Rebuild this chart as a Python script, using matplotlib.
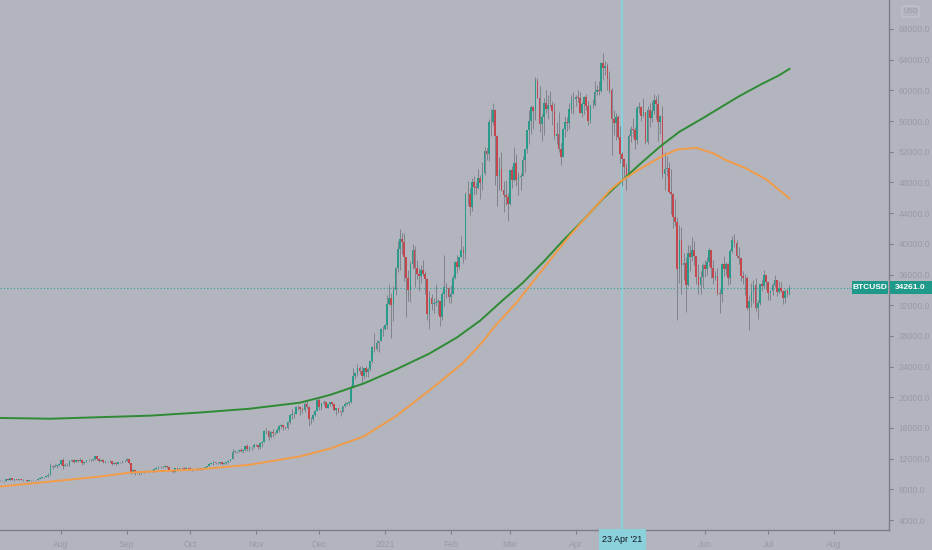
import numpy as np
import pandas as pd
import matplotlib
matplotlib.use("Agg")
import matplotlib.pyplot as plt
import matplotlib.dates as mdates
from matplotlib.patches import Rectangle, FancyBboxPatch

plt.rcParams["font.family"] = ["Liberation Sans", "DejaVu Sans"]

# BTCUSD daily candles, 3 Jul 2020 .. 11 Jul 2021, in thousand USD
start_day = "2020-07-03"
first_open = 9.23

close = [
    # Jul 2020 (from the 3rd)
    9.09, 9.13, 9.09, 9.35, 9.25, 9.43, 9.24, 9.29, 9.24, 9.30, 9.24, 9.25, 9.20, 9.13, 9.16,
    9.18, 9.21, 9.16, 9.39, 9.54, 9.61, 9.55, 9.71, 9.93, 11.03, 10.91, 11.10, 11.11, 11.34,
    # Aug
    11.80, 11.07, 11.22, 11.19, 11.74, 11.77, 11.60, 11.76, 11.68, 11.88, 11.41, 11.58, 11.78, 11.77, 11.87, 11.91,
    12.30, 11.96, 11.75, 11.87, 11.52, 11.68, 11.65, 11.75, 11.33, 11.47, 11.33, 11.54, 11.50, 11.71, 11.65,
    # Sep
    11.92, 11.39, 10.17, 10.47, 10.16, 10.26, 10.37, 10.13, 10.24, 10.36, 10.40, 10.44, 10.33, 10.68, 10.79,
    10.96, 10.95, 10.93, 11.08, 10.92, 10.42, 10.53, 10.24, 10.74, 10.69, 10.73, 10.78, 10.70, 10.84, 10.78,
    # Oct
    10.62, 10.57, 10.55, 10.67, 10.79, 10.60, 10.67, 10.92, 11.06, 11.30, 11.38, 11.54, 11.43, 11.43, 11.50, 11.32,
    11.37, 11.51, 11.75, 11.92, 12.82, 12.98, 12.93, 13.12, 13.03, 13.07, 13.65, 13.27, 13.46, 13.56, 13.80,
    # Nov
    13.76, 13.55, 14.03, 14.15, 15.59, 15.58, 14.84, 15.48, 15.33, 15.30, 15.70, 16.28, 16.32, 16.07, 15.96,
    16.72, 17.65, 17.80, 17.82, 18.68, 18.70, 18.42, 18.37, 19.16, 18.72, 17.15, 17.14, 17.72, 18.18, 19.70,
    # Dec
    18.78, 19.21, 19.42, 18.65, 19.15, 19.36, 19.17, 18.32, 18.55, 18.25, 18.03, 18.80, 19.17, 19.27, 19.44, 21.35,
    22.81, 23.14, 23.87, 23.48, 22.73, 23.82, 23.24, 23.73, 24.71, 26.49, 26.28, 27.08, 27.37, 28.88, 28.95,
    # Jan 2021
    29.37, 32.13, 33.00, 31.97, 33.99, 36.82, 39.37, 40.67, 40.24, 38.24, 35.54, 34.01, 37.39, 39.19, 36.83, 36.06,
    35.82, 36.63, 36.03, 35.47, 30.83, 33.00, 32.10, 32.28, 32.37, 32.57, 30.43, 33.47, 34.32, 34.29, 33.11,
    # Feb
    33.52, 35.51, 37.67, 36.93, 38.29, 39.24, 38.83, 46.46, 46.48, 44.85, 48.01, 47.41, 47.23, 48.63,
    47.95, 49.20, 52.15, 51.68, 55.89, 55.92, 57.49, 54.09, 48.90, 49.70, 47.06, 46.30, 46.16, 45.14,
    # Mar
    49.62, 48.38, 50.54, 48.37, 48.76, 48.88, 50.97, 52.38, 54.88, 55.96, 57.77, 57.25, 61.19, 59.00, 55.64, 56.47,
    58.33, 57.57, 58.09, 58.09, 57.35, 54.11, 54.34, 52.30, 51.32, 55.03, 55.83, 55.79, 57.63, 58.73, 58.92,
    # Apr
    59.10, 59.05, 57.08, 58.20, 59.13, 57.99, 56.00, 58.09, 58.09, 59.77, 60.00, 59.86, 63.56, 62.96, 63.23,
    61.45, 60.06, 56.22, 55.72, 56.47, 53.91, 51.76, 51.09, 50.05, 49.00, 54.02, 55.03, 54.82, 53.56, 57.75,
    # May
    57.83, 56.63, 57.20, 53.33, 57.42, 56.40, 57.36, 58.80, 58.23, 55.86, 56.65, 49.15, 49.72, 49.88, 46.76, 46.45,
    43.54, 42.85, 36.69, 40.53, 37.28, 37.52, 34.66, 38.80, 38.32, 39.24, 38.44, 35.66, 34.60, 35.66, 37.29,
    # Jun
    36.69, 37.57, 39.19, 36.85, 35.52, 35.80, 33.59, 33.40, 37.39, 36.69, 37.34, 35.55, 39.02, 40.52, 40.14,
    38.35, 38.09, 35.82, 35.48, 35.60, 31.68, 32.51, 33.68, 34.66, 31.59, 32.28, 34.70, 34.50, 35.90, 35.04,
    # Jul
    33.57, 33.90, 34.69, 35.29, 33.69, 34.22, 33.86, 32.88, 33.81, 33.51, 34.26,
]

high = [
    9.20, 9.19, 9.14, 9.36, 9.36, 9.45, 9.44, 9.31, 9.30, 9.34, 9.34, 9.28, 9.27, 9.21, 9.19,
    9.21, 9.24, 9.22, 9.43, 9.56, 9.66, 9.63, 9.74, 10.12, 11.38, 11.20, 11.33, 11.17, 11.43,
    11.85, 12.03, 11.46, 11.39, 11.77, 11.90, 11.91, 11.80, 11.80, 12.06, 11.93, 11.67, 11.80, 11.99, 11.96, 11.94,
    12.36, 12.40, 12.02, 11.89, 11.89, 11.69, 11.72, 11.81, 11.75, 11.53, 11.57, 11.56, 11.57, 11.71, 11.77,
    12.07, 11.95, 11.47, 10.64, 10.57, 10.35, 10.39, 10.44, 10.35, 10.50, 10.42, 10.48, 10.58, 10.76, 10.94,
    11.10, 11.04, 11.03, 11.18, 11.06, 10.95, 10.57, 10.54, 10.79, 10.76, 10.78, 10.80, 10.96, 10.86, 10.85,
    10.92, 10.62, 10.60, 10.68, 10.80, 10.80, 10.68, 10.96, 11.10, 11.49, 11.43, 11.72, 11.56, 11.55, 11.54, 11.54,
    11.40, 11.52, 11.82, 11.99, 13.22, 13.16, 13.03, 13.16, 13.34, 13.24, 13.79, 13.86, 13.63, 13.67, 14.09,
    13.90, 13.82, 14.07, 14.24, 15.75, 15.97, 15.74, 15.65, 15.84, 15.46, 15.97, 16.32, 16.49, 16.33, 16.14,
    16.89, 17.86, 18.47, 18.10, 18.80, 18.97, 18.70, 18.77, 19.42, 19.47, 18.92, 17.44, 17.86, 18.34, 19.86,
    19.92, 19.30, 19.58, 19.51, 19.17, 19.40, 19.39, 19.29, 18.63, 18.55, 18.27, 18.91, 19.40, 19.34, 19.53, 21.55,
    23.80, 23.25, 24.29, 24.10, 24.10, 23.84, 24.12, 23.80, 24.78, 26.72, 28.42, 27.41, 27.39, 28.99, 29.30,
    29.60, 33.30, 34.78, 33.60, 34.50, 36.94, 40.37, 41.95, 41.36, 41.35, 38.34, 36.60, 37.82, 40.00, 39.73, 37.93,
    36.85, 37.30, 37.85, 36.40, 35.57, 33.81, 33.46, 32.94, 34.82, 32.83, 32.56, 33.78, 38.53, 34.85, 34.33,
    34.66, 35.95, 37.70, 38.59, 38.29, 40.96, 39.70, 46.78, 48.14, 47.31, 48.63, 48.78, 48.05, 49.70,
    49.00, 50.62, 52.58, 52.50, 56.31, 57.54, 58.35, 57.55, 54.19, 51.34, 52.02, 48.16, 48.37, 46.62,
    49.79, 50.13, 52.64, 51.76, 49.41, 49.20, 51.42, 52.38, 54.90, 57.40, 58.08, 58.00, 61.78, 61.60, 60.60, 56.92,
    58.97, 60.10, 59.45, 59.88, 58.60, 58.40, 55.83, 57.20, 53.20, 55.09, 56.61, 56.56, 58.37, 59.34, 59.80,
    59.46, 60.04, 59.74, 58.49, 59.26, 59.47, 58.64, 58.15, 58.82, 61.25, 60.66, 61.18, 63.74, 64.86, 63.80,
    63.52, 62.57, 60.36, 57.48, 57.10, 56.75, 55.41, 52.00, 51.16, 50.54, 54.30, 55.40, 56.40, 55.20, 57.90,
    58.45, 57.94, 58.96, 57.02, 57.90, 58.36, 58.65, 59.50, 59.21, 59.55, 56.80, 57.95, 52.00, 51.51, 50.69, 49.80,
    46.60, 45.80, 43.55, 42.46, 42.20, 38.85, 38.25, 39.85, 39.80, 40.90, 40.40, 38.20, 37.34, 36.40, 37.48,
    37.90, 38.22, 39.44, 39.25, 37.90, 36.47, 36.79, 34.07, 37.53, 38.40, 37.68, 37.44, 39.35, 41.00, 41.30,
    40.50, 39.55, 38.20, 36.45, 36.10, 35.74, 33.30, 34.88, 35.27, 35.50, 32.70, 34.70, 35.30, 36.60, 36.00,
    35.04, 33.94, 34.95, 35.93, 35.29, 35.10, 35.06, 33.94, 34.08, 34.25, 34.59,
]

low = [
    9.05, 9.07, 8.90, 9.06, 9.20, 9.24, 9.16, 9.11, 9.18, 9.16, 9.20, 9.13, 9.17, 9.01, 9.09,
    9.13, 9.12, 9.13, 9.16, 9.29, 9.48, 9.47, 9.55, 9.65, 9.91, 10.59, 10.88, 10.84, 10.98,
    11.22, 10.65, 11.01, 11.02, 11.09, 11.59, 11.37, 11.55, 11.53, 11.67, 11.15, 11.27, 11.51, 11.64, 11.73, 11.69,
    11.84, 11.85, 11.58, 11.66, 11.48, 11.43, 11.53, 11.60, 11.17, 11.28, 11.16, 11.30, 11.47, 11.49, 11.57,
    11.65, 11.24, 10.02, 10.08, 9.88, 10.07, 9.93, 9.98, 10.11, 10.21, 10.20, 10.34, 10.22, 10.28, 10.64,
    10.67, 10.80, 10.83, 10.90, 10.83, 10.37, 10.37, 10.14, 10.20, 10.56, 10.65, 10.63, 10.66, 10.67, 10.71,
    10.54, 10.40, 10.52, 10.53, 10.64, 10.53, 10.59, 10.64, 10.83, 11.06, 11.28, 11.23, 11.35, 11.31, 11.30, 11.22,
    11.30, 11.36, 11.41, 11.69, 11.90, 12.71, 12.73, 12.90, 12.91, 12.78, 13.05, 12.94, 12.99, 13.13, 13.43,
    13.63, 13.21, 13.29, 13.52, 14.11, 15.19, 14.42, 14.71, 14.82, 15.07, 15.28, 15.44, 15.97, 15.71, 15.87,
    15.89, 16.57, 17.23, 17.36, 17.76, 18.35, 17.66, 18.00, 18.05, 18.57, 16.20, 16.54, 16.88, 17.53, 18.17,
    18.33, 18.34, 18.93, 18.60, 18.60, 18.92, 18.90, 18.24, 17.65, 17.91, 17.57, 18.02, 18.73, 19.00, 19.05, 19.28,
    21.23, 22.38, 22.81, 23.08, 21.82, 22.35, 22.70, 22.70, 23.44, 24.50, 25.86, 26.09, 25.88, 27.35, 27.98,
    28.80, 28.95, 32.00, 27.73, 29.90, 33.37, 36.34, 36.57, 38.72, 35.11, 30.42, 32.53, 32.38, 36.70, 34.41, 35.40,
    33.85, 34.86, 35.75, 33.40, 30.07, 28.85, 31.40, 30.95, 31.95, 30.84, 29.24, 30.01, 31.92, 32.96, 32.30,
    32.35, 33.43, 35.37, 36.17, 36.70, 38.28, 37.45, 38.01, 45.12, 43.79, 44.24, 46.33, 46.43, 47.09,
    45.80, 47.04, 48.95, 50.91, 50.75, 54.00, 55.48, 47.62, 44.89, 47.00, 46.86, 44.10, 45.05, 43.00,
    45.03, 47.23, 48.16, 47.50, 46.30, 47.07, 48.80, 49.35, 51.87, 53.07, 54.27, 55.00, 56.11, 59.00, 54.60, 53.34,
    54.20, 57.00, 56.32, 57.86, 55.50, 53.70, 53.00, 52.00, 50.32, 51.35, 53.95, 54.69, 54.93, 57.06, 56.87,
    57.95, 58.51, 57.00, 56.50, 56.87, 57.40, 55.47, 55.70, 57.64, 57.93, 59.41, 59.34, 59.80, 61.30, 62.02,
    60.00, 59.60, 51.54, 54.23, 53.48, 53.66, 50.57, 47.56, 48.79, 47.04, 48.86, 53.33, 53.88, 52.37, 53.07,
    57.05, 56.04, 56.48, 53.05, 52.97, 55.20, 55.88, 56.94, 56.24, 53.40, 54.37, 48.60, 46.98, 48.80, 46.57, 43.83,
    42.10, 42.30, 30.07, 34.95, 33.49, 35.26, 31.11, 34.50, 36.45, 37.80, 37.19, 34.70, 33.40, 33.40, 34.20,
    35.67, 35.97, 37.17, 35.59, 34.80, 35.26, 33.33, 31.00, 32.40, 35.78, 35.94, 34.63, 34.76, 38.77, 39.53,
    38.12, 37.38, 35.13, 34.82, 33.36, 31.33, 28.80, 31.70, 32.30, 31.30, 30.18, 32.00, 33.86, 34.23, 34.00,
    32.71, 32.70, 33.34, 34.33, 33.15, 33.53, 33.76, 32.11, 32.26, 33.02, 33.30,
]

# moving averages (thousand USD)
green_dates = ["2020-07-03", "2020-07-27", "2020-08-19", "2020-09-12", "2020-10-05", "2020-10-29",
               "2020-11-22", "2020-12-06", "2020-12-22", "2021-01-06", "2021-01-22", "2021-02-04",
               "2021-02-15", "2021-02-25", "2021-03-07", "2021-03-17", "2021-03-26", "2021-04-05",
               "2021-04-14", "2021-04-22", "2021-05-01", "2021-05-11", "2021-05-20", "2021-05-30",
               "2021-06-08", "2021-06-17", "2021-06-27", "2021-07-06", "2021-07-11"]
green_ma = [17.3, 17.2, 17.4, 17.6, 18.0, 18.5, 19.3, 20.3, 21.8, 23.6, 25.7, 27.8,
            30.0, 32.5, 34.9, 37.7, 40.4, 43.2, 45.9, 48.0, 50.3, 52.7, 54.6, 56.2,
            57.7, 59.2, 60.7, 61.95, 62.8]

orange_dates = ["2020-07-03", "2020-08-19", "2020-09-03", "2020-10-05", "2020-10-29", "2020-11-22",
                "2020-12-06", "2020-12-22", "2021-01-06", "2021-01-22", "2021-02-07", "2021-02-16",
                "2021-02-22", "2021-03-04", "2021-03-10", "2021-03-20", "2021-03-29", "2021-04-08",
                "2021-04-17", "2021-04-22", "2021-05-01", "2021-05-11", "2021-05-19", "2021-05-28",
                "2021-06-05", "2021-06-11", "2021-06-20", "2021-06-30", "2021-07-06", "2021-07-11"]
orange_ma = [8.35, 9.65, 10.2, 10.6, 11.2, 12.3, 13.3, 14.9, 17.5, 20.9, 24.5, 27.2,
             29.3, 32.3, 34.4, 37.9, 41.0, 44.1, 46.9, 48.1, 49.7, 51.3, 52.3, 52.5,
             51.8, 50.9, 49.9, 48.4, 47.05, 45.9]

price_ticks = [4000, 8000, 12000, 16000, 20000, 24000, 28000, 32000, 36000,
               40000, 44000, 48000, 52000, 56000, 60000, 64000, 68000]
month_ticks = ["2020-08-01", "2020-09-01", "2020-10-01", "2020-11-01", "2020-12-01", "2021-01-01",
               "2021-02-01", "2021-03-01", "2021-04-01", "2021-06-01", "2021-07-01", "2021-08-01"]
month_labels = ["Aug", "Sep", "Oct", "Nov", "Dec", "2021", "Feb", "Mar", "Apr", "Jun", "Jul", "Aug"]
symbol = "BTCUSD"
last_price = 34261.0
cursor_day = "2021-04-23"
cursor_label = "23 Apr '21"

BG = "#b2b5be"
UP = "#2a9a8b"
DOWN = "#c4474d"
WICK = "#80838c"
AXIS = "#7c7f88"
LABEL = "#989ba3"
TAG = "#1f9a8a"
CURSOR = "#8ad1dc"

W, H = 932, 550


def fx(px):
    return px / W


def fy(py):
    return 1 - py / H


days = pd.date_range(start_day, periods=len(close), freq="D")
x = mdates.date2num(days)
c = np.array(close) * 1000
o = np.r_[first_open * 1000, c[:-1]]
h = np.maximum(np.array(high) * 1000, np.maximum(o, c))
l = np.minimum(np.array(low) * 1000, np.minimum(o, c))
up = c >= o

fig = plt.figure(figsize=(W / 100, H / 100), dpi=100, facecolor=BG)
ax = fig.add_axes([0, 20 / H, 889 / W, 530 / H])
ax.set_facecolor(BG)

cx = mdates.date2num(pd.Timestamp(cursor_day))
ax.axvline(cx, color=CURSOR, lw=1.6, zorder=1)
ax.axhline(last_price, color="#26a69a", lw=0.8, ls=(0, (1, 2)), zorder=1.5)

ax.vlines(x, l, h, color=WICK, lw=0.7, zorder=2)
ax.bar(x[up], c[up] - o[up], bottom=o[up], width=0.8, color=UP, lw=0, zorder=3)
ax.bar(x[~up], c[~up] - o[~up], bottom=o[~up], width=0.8, color=DOWN, lw=0, zorder=3)

ax.plot(mdates.date2num(pd.to_datetime(green_dates)), np.array(green_ma) * 1000,
        color="#2e8b34", lw=1.4, zorder=4, solid_joinstyle="round")
ax.plot(mdates.date2num(pd.to_datetime(orange_dates)), np.array(orange_ma) * 1000,
        color="#f29b48", lw=1.4, zorder=4, solid_joinstyle="round")

aug1 = mdates.date2num(pd.Timestamp("2020-08-01"))
ax.set_xlim(aug1 - 28.8, aug1 + 391.0)
ax.set_ylim(2697, 71780)

for s in ["top", "left"]:
    ax.spines[s].set_visible(False)
for s in ["right", "bottom"]:
    ax.spines[s].set_color(AXIS)
    ax.spines[s].set_linewidth(1.0)

ax.yaxis.tick_right()
ax.set_yticks(price_ticks)
ax.set_yticklabels([f"{v:.1f}" for v in price_ticks])
ax.set_xticks(mdates.date2num(pd.to_datetime(month_ticks)))
ax.set_xticklabels(month_labels)
ax.tick_params(axis="both", length=3, width=0.8, color=AXIS, labelcolor=LABEL, labelsize=6.2)
ax.tick_params(axis="y", pad=4)
ax.tick_params(axis="x", pad=4)

# last price tag
ty = fy(287.5)
fig.patches.append(Rectangle((fx(852), fy(294)), fx(36), 13 / H, transform=fig.transFigure,
                             fc=TAG, ec="none", zorder=5))
fig.patches.append(Rectangle((fx(890), fy(294)), fx(42), 13 / H, transform=fig.transFigure,
                             fc=TAG, ec="none", zorder=5))
fig.text(fx(870), ty, symbol, ha="center", va="center", fontsize=6, color="white",
         fontweight="bold", zorder=6)
fig.text(fx(910.5), ty, f"{last_price:.1f}", ha="center", va="center", fontsize=6,
         color="white", fontweight="bold", zorder=6)

# crosshair date tag
fig.patches.append(Rectangle((fx(599), 0), fx(47), 21 / H, transform=fig.transFigure,
                             fc=CURSOR, ec="none", zorder=5))
fig.text(fx(622.5), fy(540), cursor_label, ha="center", va="center", fontsize=6.5,
         color="#131722", zorder=6)

# currency badge
fig.patches.append(FancyBboxPatch((fx(902), fy(17)), fx(17), 11 / H, transform=fig.transFigure,
                                  boxstyle="round,pad=0,rounding_size=0.003",
                                  fc="none", ec="#c3c6cd", lw=0.8))
fig.text(fx(910.5), fy(11.5), "USD", ha="center", va="center", fontsize=5, color=LABEL)

fig.savefig("out.png", dpi=100, facecolor=BG)
